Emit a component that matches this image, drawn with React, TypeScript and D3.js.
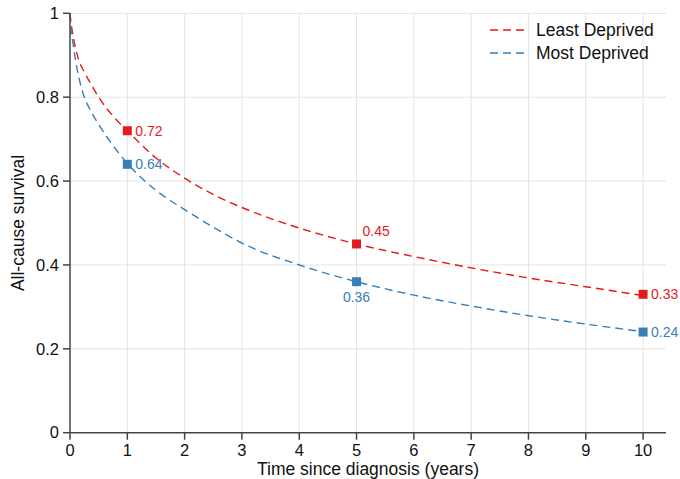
import React from 'react'
import * as d3 from 'd3'

// survival curves
const years = [0, 0.02, 0.05, 0.1, 0.15, 0.25, 0.35, 0.5, 0.75, 1, 1.5, 2, 2.5, 3, 4, 5, 6, 7, 8, 9, 10]
const leastDeprived = [1, 0.975, 0.95, 0.915, 0.89, 0.86, 0.835, 0.80, 0.755, 0.72, 0.655, 0.607, 0.568, 0.537, 0.488, 0.45, 0.42, 0.393, 0.369, 0.348, 0.327]
const mostDeprived = [1, 0.96, 0.93, 0.885, 0.85, 0.80, 0.77, 0.735, 0.685, 0.642, 0.578, 0.532, 0.49, 0.452, 0.40, 0.36, 0.328, 0.302, 0.279, 0.259, 0.241]

const markYears = [1, 5, 10]
const leastMarks = [0.72, 0.45, 0.33]
const mostMarks = [0.64, 0.36, 0.24]

const xTicks = [0, 1, 2, 3, 4, 5, 6, 7, 8, 9, 10]
const yTicks = [0, 0.2, 0.4, 0.6, 0.8, 1]

const RED = '#e41a1c'
const BLUE = '#377eb8'

export default function App() {
  const width = 680
  const height = 479
  const left = 70, right = 666, top = 13.3, bottom = 432.7

  const x = d3.scaleLinear().domain([0, 10.4]).range([left, right])
  const y = d3.scaleLinear().domain([0, 1]).range([bottom, top])

  const line = d3.line<number>()
    .x((d, i) => x(years[i]))
    .y(d => y(d))
    .curve(d3.curveMonotoneX)

  const font = "'Liberation Sans', Arial, sans-serif"
  const fmt = d3.format('.2f')

  // label placement per mark: [dx, dy, anchor]
  const leastPos: [number, number, string][] = [[8, 5, 'start'], [6, -8, 'start'], [8, 5, 'start']]
  const mostPos: [number, number, string][] = [[8, 5, 'start'], [0, 20, 'middle'], [8, 5, 'start']]

  const series = [
    { name: 'Least Deprived', color: RED, vals: leastDeprived, marks: leastMarks, pos: leastPos },
    { name: 'Most Deprived', color: BLUE, vals: mostDeprived, marks: mostMarks, pos: mostPos },
  ]

  return (
    <svg width={width} height={height} style={{ position: 'absolute', left: 0, top: 0, background: '#fff' }}
      fontFamily={font}>
      <rect width={width} height={height} fill="#fff" />
      {/* grid */}
      {yTicks.filter(t => t > 0).map(t => (
        <line key={'gy' + t} x1={left} x2={right} y1={y(t)} y2={y(t)} stroke="#e3e3e3" strokeWidth={1} />
      ))}
      {xTicks.filter(t => t > 0).map(t => (
        <line key={'gx' + t} x1={x(t)} x2={x(t)} y1={top} y2={bottom} stroke="#e3e3e3" strokeWidth={1} />
      ))}

      {/* curves */}
      {series.map(s => (
        <path key={s.name} d={line(s.vals) || ''} fill="none" stroke={s.color} strokeWidth={1.4} strokeDasharray="8,5" />
      ))}

      {/* axes */}
      <line x1={left} x2={left} y1={top} y2={bottom} stroke="#444" strokeWidth={1.5} />
      <line x1={left} x2={right} y1={bottom} y2={bottom} stroke="#444" strokeWidth={1.5} />
      {yTicks.map(t => (
        <g key={'ty' + t}>
          <line x1={left - 7} x2={left} y1={y(t)} y2={y(t)} stroke="#444" strokeWidth={1.5} />
          <text x={left - 11} y={y(t)} dy="0.35em" textAnchor="end" fontSize={16.5} fill="#111">{t === 0 || t === 1 ? t : fmt(t).replace(/0$/, '')}</text>
        </g>
      ))}
      {xTicks.map(t => (
        <g key={'tx' + t}>
          <line x1={x(t)} x2={x(t)} y1={bottom} y2={bottom + 7} stroke="#444" strokeWidth={1.5} />
          <text x={x(t)} y={bottom + 23} textAnchor="middle" fontSize={16.5} fill="#111">{t}</text>
        </g>
      ))}

      {/* markers and labels */}
      {series.map(s => markYears.map((yr, i) => (
        <g key={s.name + yr}>
          <rect x={x(yr) - 4.5} y={y(s.marks[i]) - 4.5} width={9} height={9} fill={s.color} />
          <text x={x(yr) + s.pos[i][0]} y={y(s.marks[i]) + s.pos[i][1]} textAnchor={s.pos[i][2] as any}
            fontSize={14} fill={s.color}>{fmt(s.marks[i])}</text>
        </g>
      )))}

      {/* axis titles */}
      <text x={(left + right) / 2} y={475} textAnchor="middle" fontSize={17.5} fill="#111">Time since diagnosis (years)</text>
      <text transform={`translate(24,${(top + bottom) / 2}) rotate(-90)`} textAnchor="middle" fontSize={17.5} fill="#111">All-cause survival</text>

      {/* legend */}
      {series.map((s, i) => (
        <g key={'lg' + s.name} transform={`translate(490,${30 + i * 23})`}>
          <line x1={0} x2={36} y1={0} y2={0} stroke={s.color} strokeWidth={1.4} strokeDasharray="8,5" />
          <text x={46} y={0} dy="0.35em" fontSize={17.5} fill="#111">{s.name}</text>
        </g>
      ))}
    </svg>
  )
}
